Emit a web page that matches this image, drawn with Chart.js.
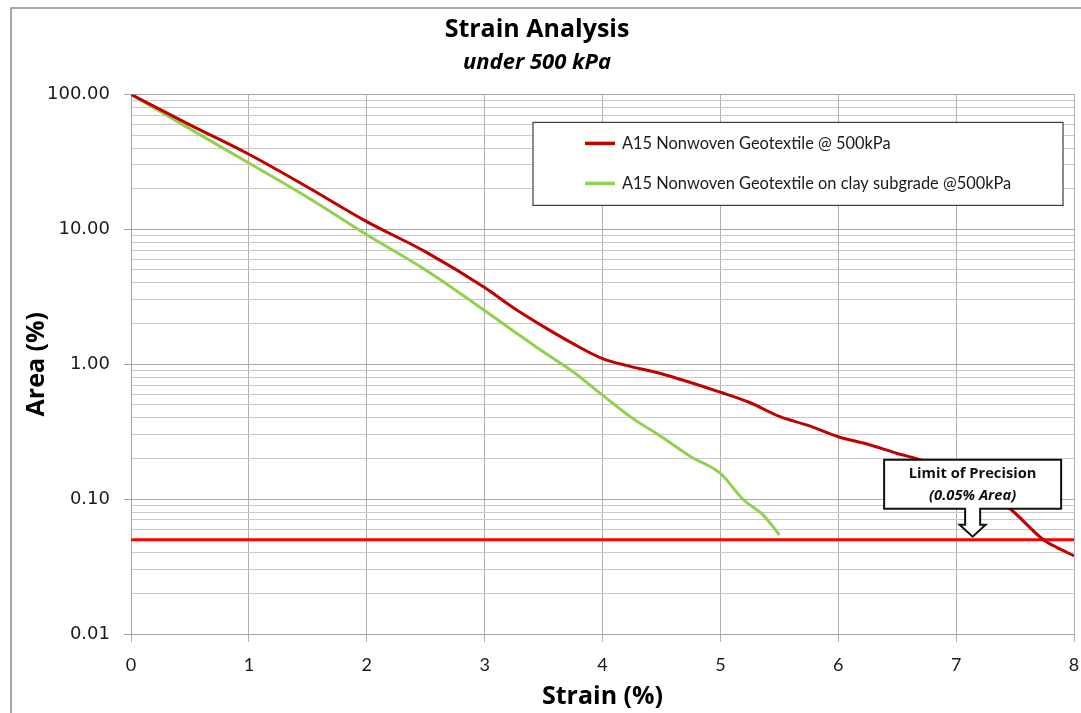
<!DOCTYPE html>
<html>
<head>
<meta charset="utf-8">
<script src="https://cdn.jsdelivr.net/npm/chart.js@4.4.0/dist/chart.umd.min.js"></script>
<style>
  html, body { margin: 0; padding: 0; background: #ffffff; }
  #canvas-container { position: relative; width: 1081px; height: 713px; }
</style>
</head>
<body>
<div id="canvas-container"><canvas id="mycanvas" width="1081" height="713"></canvas></div>
<script>
// values
const seriesNames = [
  "A15 Nonwoven Geotextile @ 500kPa",
  "A15 Nonwoven Geotextile on clay subgrade @500kPa",
];
const strainRed = [0, 0.5, 1, 1.5, 2, 2.5, 3, 3.25, 3.5, 3.75, 4, 4.2, 4.5, 5, 5.25, 5.5, 5.75, 6, 6.25, 6.5, 6.7, 7, 7.25, 7.47, 7.74, 7.85, 8];
const areaRed = [100, 59.5, 36, 20.5, 11.4, 6.8, 3.7, 2.6, 1.9, 1.42, 1.1, 0.98, 0.85, 0.62, 0.52, 0.41, 0.35, 0.29, 0.255, 0.218, 0.195, 0.15, 0.115, 0.083, 0.05, 0.044, 0.038];
const strainGreen = [0, 0.5, 1, 1.5, 2, 2.5, 3, 3.25, 3.5, 3.75, 4, 4.25, 4.5, 4.75, 5, 5.2, 5.35, 5.45, 5.5];
const areaGreen = [100, 55.5, 31, 17.2, 9.1, 5.0, 2.5, 1.75, 1.23, 0.88, 0.59, 0.40, 0.29, 0.206, 0.155, 0.098, 0.078, 0.062, 0.054];
const limitStrain = [0, 8];
const limitArea = [0.05, 0.05];
const xTickValues = [0, 1, 2, 3, 4, 5, 6, 7, 8];
const yDecades = [0.01, 0.1, 1, 10, 100];
const yMinorSteps = [2, 3, 4, 5, 6, 7, 8, 9];
const calloutLines = ["Limit of Precision", "(0.05% Area)"];
const calloutStrain = 7.14;

const toPoints = (xs, ys) => xs.map((x, i) => ({ x: x, y: ys[i] }));

// white page + outer frame of the chart object
const framePlugin = {
  id: "frame",
  beforeDraw(chart) {
    const ctx = chart.ctx;
    ctx.save();
    ctx.fillStyle = "#ffffff";
    ctx.fillRect(0, 0, chart.width, chart.height);
    ctx.strokeStyle = "#8a8a8a";
    ctx.lineWidth = 1.5;
    ctx.strokeRect(11, 8, 2000, 2000);
    ctx.restore();
  },
};

// legend box inside the plot, top right
const boxLegendPlugin = {
  id: "boxLegend",
  afterDraw(chart) {
    const ctx = chart.ctx;
    const area = chart.chartArea;
    const w = 530, h = 83;
    const left = area.right - 11 - w;
    const top = area.top + 28;
    ctx.save();
    ctx.fillStyle = "#ffffff";
    ctx.fillRect(left, top, w, h);
    ctx.strokeStyle = "#3c3c3c";
    ctx.lineWidth = 1.2;
    ctx.strokeRect(left, top, w, h);
    ctx.font = "16.4px Lato";
    ctx.textBaseline = "middle";
    ctx.fillStyle = "#1a1a1a";
    seriesNames.forEach((name, i) => {
      const ds = chart.data.datasets[i];
      const y = top + 21 + i * 40;
      ctx.strokeStyle = ds.borderColor;
      ctx.lineWidth = 3.5;
      ctx.beginPath();
      ctx.moveTo(left + 52, y);
      ctx.lineTo(left + 82, y);
      ctx.stroke();
      ctx.fillText(name, left + 89, y);
    });
    ctx.restore();
  },
};

// "Limit of Precision" callout pointing at the 0.05 line
const calloutPlugin = {
  id: "callout",
  afterDraw(chart) {
    const ctx = chart.ctx;
    const xs = chart.scales.x, ys = chart.scales.y;
    const tipX = xs.getPixelForValue(calloutStrain);
    const tipY = ys.getPixelForValue(limitArea[0]) - 3;
    const bw = 177, bh = 49;
    const bx = tipX - bw / 2;
    const by = tipY - 28 - bh;
    const stem = 7.5, head = 13, headY = tipY - 12;
    ctx.save();
    ctx.beginPath();
    ctx.moveTo(bx, by);
    ctx.lineTo(bx + bw, by);
    ctx.lineTo(bx + bw, by + bh);
    ctx.lineTo(tipX + stem, by + bh);
    ctx.lineTo(tipX + stem, headY);
    ctx.lineTo(tipX + head, headY);
    ctx.lineTo(tipX, tipY);
    ctx.lineTo(tipX - head, headY);
    ctx.lineTo(tipX - stem, headY);
    ctx.lineTo(tipX - stem, by + bh);
    ctx.lineTo(bx, by + bh);
    ctx.closePath();
    ctx.fillStyle = "#ffffff";
    ctx.fill();
    ctx.strokeStyle = "#111111";
    ctx.lineWidth = 2;
    ctx.stroke();
    ctx.fillStyle = "#111111";
    ctx.textAlign = "center";
    ctx.textBaseline = "middle";
    ctx.font = "bold 14.7px 'Open Sans'";
    ctx.fillText(calloutLines[0], tipX, by + 14);
    ctx.font = "italic bold 14.7px 'Open Sans'";
    ctx.fillText(calloutLines[1], tipX, by + 36);
    ctx.restore();
  },
};

const ctx = document.getElementById("mycanvas");

const myChart = new Chart(ctx, {
  type: "line",
  data: {
    datasets: [
      {
        label: seriesNames[0],
        data: toPoints(strainRed, areaRed),
        borderColor: "#c00000",
        borderWidth: 3,
        pointRadius: 0,
        cubicInterpolationMode: "monotone",
        fill: false,
      },
      {
        label: seriesNames[1],
        data: toPoints(strainGreen, areaGreen),
        borderColor: "#92d050",
        borderWidth: 3,
        pointRadius: 0,
        cubicInterpolationMode: "monotone",
        fill: false,
      },
      {
        label: "limit",
        data: toPoints(limitStrain, limitArea),
        borderColor: "#ff0000",
        borderWidth: 3,
        pointRadius: 0,
        fill: false,
      },
    ],
  },
  options: {
    responsive: false,
    devicePixelRatio: 1,
    animation: false,
    layout: { padding: { left: 0, right: 7, top: 0, bottom: 0 } },
    plugins: {
      legend: { display: false },
      tooltip: { enabled: false },
      title: {
        display: true,
        text: "Strain Analysis",
        color: "#000000",
        font: { family: "'Open Sans'", size: 25, weight: "bold" },
        padding: { top: 15, bottom: 0 },
      },
      subtitle: {
        display: true,
        text: "under 500 kPa",
        color: "#000000",
        font: { family: "'Open Sans'", size: 22, weight: "bold", style: "italic" },
        padding: { top: 5, bottom: 18 },
      },
    },
    scales: {
      x: {
        type: "linear",
        min: 0,
        max: 8,
        afterBuildTicks: (scale) => {
          scale.ticks = xTickValues.map((v) => ({ value: v }));
        },
        afterFit: (scale) => {
          scale.height = 79;
          scale.paddingLeft = 0;
          scale.paddingRight = 0;
        },
        ticks: {
          color: "#1a1a1a",
          font: { family: "Lato", size: 18 },
          padding: 12,
          autoSkip: false,
          maxRotation: 0,
        },
        grid: {
          color: "#b0b0b0",
          tickColor: "#b0b0b0",
          tickLength: 8,
          lineWidth: 1,
        },
        border: { display: true, color: "#a6a6a6" },
        title: {
          display: true,
          text: "Strain (%)",
          color: "#000000",
          font: { family: "'Open Sans'", size: 25, weight: "bold" },
          padding: { top: 0, bottom: 1 },
        },
      },
      y: {
        type: "logarithmic",
        min: 0.01,
        max: 100,
        afterBuildTicks: (scale) => {
          const ticks = [];
          yDecades.forEach((d, i) => {
            ticks.push({ value: d, major: true });
            if (i < yDecades.length - 1) {
              yMinorSteps.forEach((m) => ticks.push({ value: d * m, major: false }));
            }
          });
          scale.ticks = ticks;
        },
        afterFit: (scale) => {
          scale.width = 131;
        },
        ticks: {
          color: "#1a1a1a",
          font: { family: "DejaVu Sans", size: 18 },
          padding: 14,
          autoSkip: false,
          callback: (value, index, ticks) => (ticks[index].major ? Number(value).toFixed(2) : ""),
        },
        grid: {
          color: (c) => (c.tick && c.tick.major ? "#a6a6a6" : "#c8c8c8"),
          tickColor: (c) => (c.tick && c.tick.major ? "#a6a6a6" : "rgba(0,0,0,0)"),
          tickLength: 7,
          lineWidth: 1,
        },
        border: { display: true, color: "#a6a6a6" },
        title: {
          display: true,
          text: "Area (%)",
          color: "#000000",
          font: { family: "'Open Sans'", size: 25, weight: "bold" },
          padding: { top: 22, bottom: 0 },
        },
      },
    },
  },
  plugins: [framePlugin, boxLegendPlugin, calloutPlugin],
});
</script>
</body>
</html>
